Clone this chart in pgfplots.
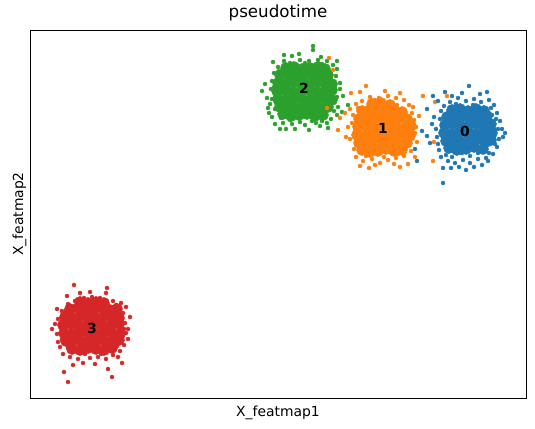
\documentclass[border=0pt]{standalone}
\usepackage{fontspec}
\setmainfont{DejaVu Sans}
\usepackage{pgfplots}
\pgfplotsset{compat=1.18}
\definecolor{c0}{HTML}{1F77B4}
\definecolor{c1}{HTML}{FF7F0E}
\definecolor{c2}{HTML}{2CA02C}
\definecolor{c3}{HTML}{D62728}
\begin{document}
\begin{tikzpicture}
\begin{axis}[
 scale only axis, width=496bp, height=368bp,
 xmin=30, xmax=526, ymin=31, ymax=399,
 xtick=\empty, ytick=\empty,
 axis line style={line width=0.8pt},
 title={pseudotime},
 title style={font=\fontsize{16.7bp}{20bp}\selectfont},
 xlabel={X\_featmap1}, ylabel={X\_featmap2},
 xlabel style={yshift=-4bp},
 label style={font=\fontsize{13.9bp}{16bp}\selectfont},
 core/.style={only marks, color=#1, mark=*, mark size=5.6bp, mark options={solid, draw=#1, fill=#1}},
 outer/.style={only marks, color=#1, mark=*, mark size=2bp, mark options={solid, draw=#1, fill=#1}},
]
% cluster 2 (green)
\addplot[core=c2] coordinates {
(283,315)(291,313)(299,314)(307,315)(315,313)(323,314)
(280,322)(288,323)(296,321)(304,322)(312,323)(320,321)(328,322)
(278,330)(286,329)(294,331)(302,330)(310,329)(318,331)(326,330)(332,329)
(277,338)(285,339)(293,337)(301,338)(309,339)(317,337)(325,338)(332,339)
(278,346)(286,345)(294,347)(302,346)(310,345)(318,347)(326,346)(332,345)
(280,354)(288,355)(296,353)(304,354)(312,355)(320,353)(328,354)
(286,361)(294,362)(302,360)(310,361)(318,362)(325,360)
};
\addplot[outer=c2] coordinates {
(313,383)(313,379)(280,300)(309,299)(328,301)(268,321)(267,331)(273,367)(292,373)(321,372)
(340,346)(342,317)(348,324)(272,312)(275,305)(283,306)(292,305)(300,307)(316,306)(322,308)
(331,310)(337,314)(338,322)(337,332)(340,340)(336,353)(337,360)(333,364)(327,368)(318,369)
(309,368)(300,369)(284,368)(278,362)(274,356)(272,348)(271,340)(272,330)(275,320)(270,325)
(299,375)(284,374)(337,368)(343,333)(265,345)(262,338)(269,316)(286,300)(320,303)(295,300)
(290,309)(305,304)(312,308)(327,306)(334,318)(335,344)(331,357)(322,365)(305,366)(290,366)
(279,358)(274,342)(276,326)(281,311)
};
% cluster 1 (orange)
\addplot[core=c1] coordinates {
(362,279)(370,277)(378,278)(386,280)(394,278)(402,279)
(359,286)(367,287)(375,285)(383,286)(391,287)(399,285)(407,286)
(357,294)(365,293)(373,295)(381,294)(389,293)(397,295)(405,294)(410,293)
(358,302)(366,303)(374,301)(382,302)(390,303)(398,301)(406,302)(411,303)
(359,310)(367,309)(375,311)(383,310)(391,309)(399,311)(407,310)
(362,318)(370,319)(378,317)(386,318)(394,319)(402,317)
(372,325)(381,326)(390,324)
};
\addplot[outer=c1] coordinates {
(366,343)(400,336)(351,336)(340,311)(338,299)(346,292)(369,261)(394,265)(408,265)(415,272)
(417,287)(414,309)(413,322)(423,333)(435,327)(434,287)(433,268)(329,371)(333,359)(327,321)
(447,333)(453,281)(350,320)(352,306)(350,290)(354,280)(356,272)(363,268)(372,270)(380,266)
(388,269)(396,271)(404,273)(411,278)(415,296)(416,302)(412,316)(409,324)(404,329)(396,331)
(388,333)(379,331)(370,332)(362,328)(356,325)(353,314)(348,302)(360,337)(385,338)(375,264)
(360,263)(400,262)(419,313)(345,316)(366,273)(384,272)(398,275)(355,298)(358,321)(397,324)
(412,298)(375,329)
};
% cluster 0 (blue)
\addplot[core=c0] coordinates {
(449,281)(457,279)(466,280)(474,282)(483,280)
(446,288)(454,289)(462,287)(470,288)(478,290)(486,287)(491,289)
(444,296)(452,295)(460,297)(468,296)(476,295)(484,297)(492,296)
(445,304)(453,305)(461,303)(469,304)(477,305)(485,303)(491,305)
(447,312)(455,311)(463,313)(471,312)(479,311)(487,313)
(452,319)(460,320)(468,318)(476,320)(484,318)
};
\addplot[outer=c0] coordinates {
(443,246)(469,343)(487,337)(503,292)(459,262)(482,264)(443,261)(417,268)(415,280)(427,293)
(427,320)(433,333)(438,328)(440,310)(436,300)(438,285)(441,272)(448,268)(455,266)(463,269)
(470,266)(478,270)(486,271)(493,275)(497,282)(499,290)(498,300)(500,308)(497,316)(494,324)
(489,329)(481,327)(474,330)(466,328)(458,331)(450,327)(444,323)(441,318)(434,312)(437,292)
(439,279)(446,274)(452,272)(470,273)(489,276)(495,285)(496,310)(491,321)(480,335)(462,336)
(452,333)(445,337)(502,300)(505,296)(451,261)(474,262)(466,259)(488,268)(432,305)(422,298)
(430,286)(462,276)(478,276)(494,300)(492,314)(473,324)(456,325)(442,303)
};
% cluster 3 (red)
\addplot[core=c3] coordinates {
(72,80)(80,79)(88,81)(96,80)(104,79)(112,81)
(66,88)(74,89)(82,87)(90,88)(98,89)(106,87)(114,88)(119,89)
(64,96)(72,95)(80,97)(88,96)(96,95)(104,97)(112,96)(120,95)
(63,104)(71,105)(79,103)(87,104)(95,105)(103,103)(111,104)(119,105)
(65,112)(73,111)(81,113)(89,112)(97,111)(105,113)(113,112)(119,111)
(70,120)(78,121)(86,119)(94,120)(102,121)(110,119)(117,120)
(80,127)(88,126)(96,127)(104,126)
};
\addplot[outer=c3] coordinates {
(74,144)(107,141)(106,136)(67,133)(80,136)(57,120)(52,100)(58,87)(64,57)(68,47)
(108,60)(112,52)(83,66)(118,72)(128,90)(130,112)(126,122)(118,123)(100,131)(58,110)
(57,95)(60,82)(63,75)(70,72)(78,70)(90,71)(98,72)(106,70)(113,74)(120,78)
(124,84)(126,96)(125,106)(123,116)(121,126)(113,128)(92,132)(84,131)(75,128)(68,125)
(62,118)(60,104)(55,105)(122,66)(95,65)(73,64)(90,137)(128,100)(62,90)
(85,75)(101,75)(68,82)(117,83)(124,100)(116,124)(100,126)(66,118)
};
% cluster labels
\addplot[only marks, mark=none, black, nodes near coords, point meta=explicit symbolic,
 nodes near coords align={center},
 every node near coord/.append style={font=\fontsize{13.9bp}{16bp}\selectfont\bfseries, text=black}]
 coordinates {(465,298)[0] (383,301)[1] (304,341)[2] (92,101)[3]};
\coordinate (bl) at (rel axis cs:0,0);
\coordinate (tr) at (rel axis cs:1,1);
\end{axis}
\path (bl) +(-30bp,-31bp);
\path (tr) +(9bp,30bp);
\end{tikzpicture}
\end{document}
